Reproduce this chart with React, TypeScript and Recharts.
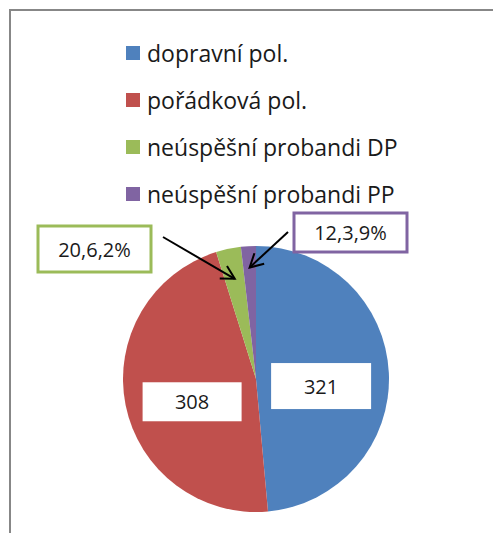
import React from 'react';
import { PieChart, Pie, Cell, Legend } from 'recharts';

const categories = ['dopravní pol.', 'pořádková pol.', 'neúspěšní probandi DP', 'neúspěšní probandi PP'];
const counts = [321, 308, 20, 12];
const labelTexts = ['321', '308', '20,6,2%', '12,3,9%'];
const colors = ['#4F81BD', '#C0504D', '#9BBB59', '#8064A2'];

const data = categories.map((name, i) => ({ name, value: counts[i] }));

const FONT = '"Open Sans", "Noto Sans", sans-serif';
const RAD = Math.PI / 180;

// callout boxes for the two thin slices, offsets from pie centre
const callouts: Record<number, { bx: number; by: number; w: number; h: number; sx: number; sy: number; tipR: number }> = {
  2: { bx: -218, by: -153, w: 113, h: 46, sx: -93, sy: -142, tipR: 0.77 },
  3: { bx: 38, by: -166, w: 113, h: 39, sx: 32, sy: -147, tipR: 0.84 },
};

const renderLabel = (props: any) => {
  const { cx, cy, midAngle, outerRadius, index } = props;
  const cos = Math.cos(-midAngle * RAD);
  const sin = Math.sin(-midAngle * RAD);
  if (index < 2) {
    const d = outerRadius * 0.49;
    const x = cx + d * cos;
    const y = cy + d * sin + 10;
    const w = index === 0 ? 100 : 99;
    const h = index === 0 ? 46 : 39;
    return (
      <g>
        <rect x={x - w / 2} y={y - h / 2} width={w} height={h} fill="#fff" />
        <text x={x} y={y} textAnchor="middle" dominantBaseline="central" fontSize={20} fontFamily={FONT} fill="#1a1a1a">
          {labelTexts[index]}
        </text>
      </g>
    );
  }
  const c = callouts[index];
  const tx = cx + outerRadius * c.tipR * cos;
  const ty = cy + outerRadius * c.tipR * sin;
  const sx = cx + c.sx;
  const sy = cy + c.sy;
  const ang = Math.atan2(ty - sy, tx - sx);
  const head = 15;
  const p1 = [tx - head * Math.cos(ang - 0.5), ty - head * Math.sin(ang - 0.5)];
  const p2 = [tx - head * Math.cos(ang + 0.5), ty - head * Math.sin(ang + 0.5)];
  const bx = cx + c.bx;
  const by = cy + c.by;
  return (
    <g>
      <rect x={bx} y={by} width={c.w} height={c.h} fill="#fff" stroke={colors[index]} strokeWidth={3} />
      <text x={bx + c.w / 2} y={by + c.h / 2} textAnchor="middle" dominantBaseline="central" fontSize={20} fontFamily={FONT} fill="#1a1a1a">
        {labelTexts[index]}
      </text>
      <line x1={sx} y1={sy} x2={tx} y2={ty} stroke="#000" strokeWidth={2} />
      <polyline points={`${p1[0]},${p1[1]} ${tx},${ty} ${p2[0]},${p2[1]}`} fill="none" stroke="#000" strokeWidth={2} />
    </g>
  );
};

// legend drawn in the category order, not the payload order
const renderLegend = () => (
  <div style={{ fontFamily: FONT, fontSize: 23, color: '#1a1a1a' }}>
    {categories.map((name, i) => (
      <div key={name} style={{ display: 'flex', alignItems: 'center', height: 47 }}>
        <span style={{ width: 14, height: 14, background: colors[i], marginRight: 7, display: 'inline-block', flexShrink: 0 }} />
        <span>{name}</span>
      </div>
    ))}
  </div>
);

export default function App() {
  return (
    <div style={{ position: 'absolute', left: 0, top: 0, width: 493, height: 533, background: '#fff', overflow: 'hidden' }}>
      <div style={{ position: 'absolute', left: 9, top: 9, width: 500, height: 540, borderLeft: '2px solid #878787', borderTop: '2px solid #878787' }} />
      <div style={{ position: 'absolute', left: 0, top: 0 }}>
        <PieChart width={493} height={533} margin={{ top: 0, right: 0, bottom: 0, left: 0 }}>
          <Legend
            content={renderLegend}
            layout="vertical"
            verticalAlign="middle"
            align="center"
            wrapperStyle={{ top: 29, left: 126, width: 340 }}
          />
          <Pie
            data={data}
            dataKey="value"
            nameKey="name"
            cx={256}
            cy={379}
            outerRadius={133}
            startAngle={90}
            endAngle={-270}
            stroke="none"
            label={renderLabel}
            labelLine={false}
            isAnimationActive={false}
          >
            {data.map((d, i) => (
              <Cell key={d.name} fill={colors[i]} />
            ))}
          </Pie>
        </PieChart>
      </div>
    </div>
  );
}
